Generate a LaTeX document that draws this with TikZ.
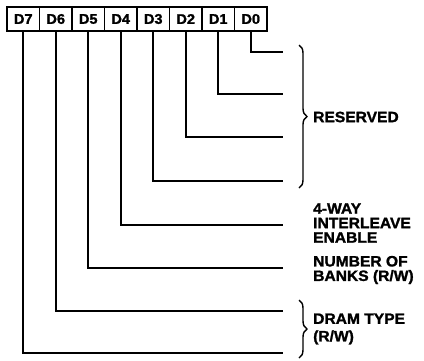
\documentclass[tikz,border=0pt]{standalone}
\usepackage{fontspec}
\newfontfamily\regfont[FakeStretch=1.04, BoldFeatures={FakeBold=1.5}]{Liberation Sans}
\usetikzlibrary{positioning,decorations.pathreplacing}
\tikzset{
  bitbox/.style={draw, line width=1.6pt, minimum width=32.5pt, minimum height=24pt, inner sep=0pt, outer sep=0pt, font=\regfont\bfseries\fontsize{14}{15}\selectfont},
  wire/.style={line width=1.6pt},
  grp/.style={decorate, decoration={brace, amplitude=8pt}, line width=1.4pt},
  lbl/.style={anchor=west, align=left, inner sep=0pt, font=\regfont\bfseries\fontsize{15}{14.5}\selectfont}
}
\begin{document}
\begin{tikzpicture}[x=1pt, y=-1pt]
\useasboundingbox (0,0) rectangle (424,360);
\node[bitbox, anchor=north west] (d7) at (7,7) {D7};
\foreach \a/\b in {7/6,6/5,5/4,4/3,3/2,2/1,1/0}
  \node[bitbox, right=0pt of d\a] (d\b) {D\b};
% each bit drops down and runs out to its field
\foreach \b/\y in {0/52,1/94,2/137,3/181,4/225,5/268,6/311,7/353} {
  \coordinate (e\b) at (283,\y);
  \draw[wire] (d\b.south) |- (e\b);
}
% field braces and names
\coordinate (rtop) at (299,45);
\coordinate (rbot) at (299,188);
\draw[grp] (rtop) -- (rbot);
\node[lbl] (res) at (313,117) {RESERVED};
\node[lbl] (ilv) at (313,223) {4-WAY\\INTERLEAVE\\ENABLE};
\node[lbl] (bnk) at (313,270) {NUMBER OF\\BANKS (R/W)};
\coordinate (dtop) at (299,300);
\coordinate (dbot) at (299,358);
\draw[grp] (dtop) -- (dbot);
\node[lbl] (dram) at (313,329) {DRAM TYPE\\[3pt](R/W)};
\end{tikzpicture}
\end{document}
